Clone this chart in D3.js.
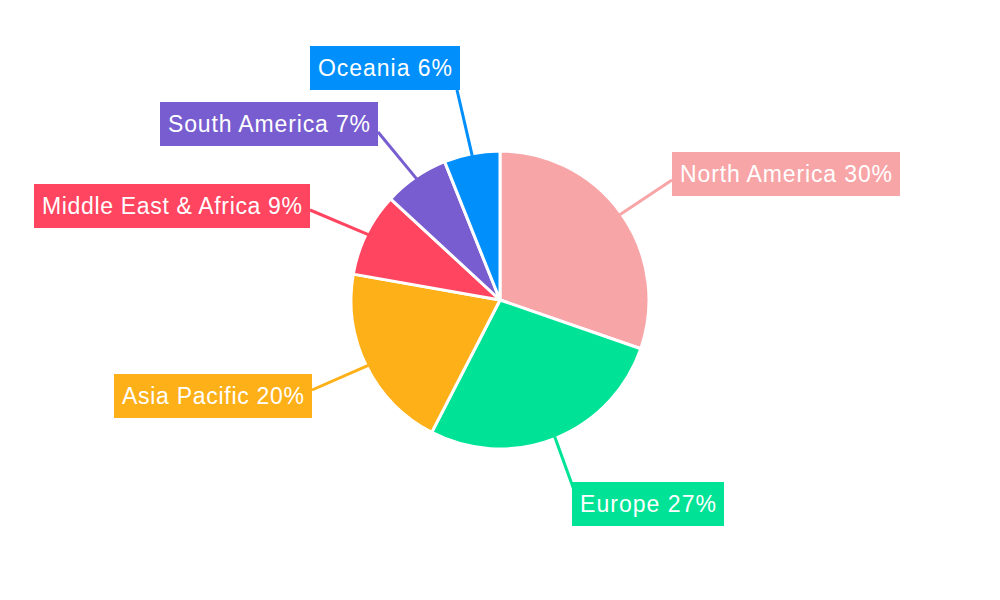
<!DOCTYPE html>
<html>
<head>
<meta charset="utf-8">
<script src="https://cdn.jsdelivr.net/npm/d3@7"></script>
<style>body{margin:0;background:#fff}</style>
</head>
<body>
<div id="chart"></div>
<script>
// data
var regions = ["North America", "Europe", "Asia Pacific", "Middle East & Africa", "South America", "Oceania"];
var shares = [30, 27, 20, 9, 7, 6];
var colors = ["#f8a5a8", "#00e396", "#feb019", "#ff4560", "#775dd0", "#008ffb"];

// label boxes (layout): left x, centre y, box width, and where the leader line meets the box
var labelPos = [
  {x: 672, y: 174, w: 228, ax: 672, ay: 180},
  {x: 572, y: 504, w: 152, ax: 574, ay: 490},
  {x: 114, y: 396, w: 198, ax: 312, ay: 390},
  {x: 34,  y: 206, w: 276, ax: 310, ay: 210},
  {x: 160, y: 124, w: 218, ax: 378, ay: 132},
  {x: 310, y: 68,  w: 150, ax: 457, ay: 90}
];

var W = 1000, H = 600, cx = 500, cy = 300, R = 149;
var svg = d3.select("#chart").append("svg").attr("width", W).attr("height", H);
var g = svg.append("g").attr("transform", "translate(" + cx + "," + cy + ")");

var pie = d3.pie().sort(null).value(function (d) { return d; });
var arcs = pie(shares);
var arc = d3.arc().innerRadius(0).outerRadius(R);

// leader lines
arcs.forEach(function (a, i) {
  var m = (a.startAngle + a.endAngle) / 2;
  var p = labelPos[i];
  svg.append("line")
    .attr("x1", cx + Math.sin(m) * (R - 2)).attr("y1", cy - Math.cos(m) * (R - 2))
    .attr("x2", p.ax).attr("y2", p.ay)
    .style("stroke", colors[i]).style("stroke-width", 3);
});

g.selectAll("path").data(arcs).enter().append("path")
  .attr("d", arc)
  .attr("fill", function (d, i) { return colors[i]; })
  .attr("stroke", "#fff").attr("stroke-width", 3).attr("stroke-linejoin", "round");

// label boxes
arcs.forEach(function (a, i) {
  var p = labelPos[i];
  var lg = svg.append("g");
  lg.append("rect").attr("fill", colors[i])
    .attr("x", p.x).attr("y", p.y - 22).attr("width", p.w).attr("height", 44);
  lg.append("text")
    .attr("x", p.x + 8).attr("y", p.y + 8)
    .attr("textLength", p.w - 16).attr("lengthAdjust", "spacing")
    .style("font-family", "Liberation Sans, Arial, sans-serif")
    .style("font-size", "23px").style("fill", "#fff")
    .text(regions[i] + " " + shares[i] + "%");
});
</script>
</body>
</html>
